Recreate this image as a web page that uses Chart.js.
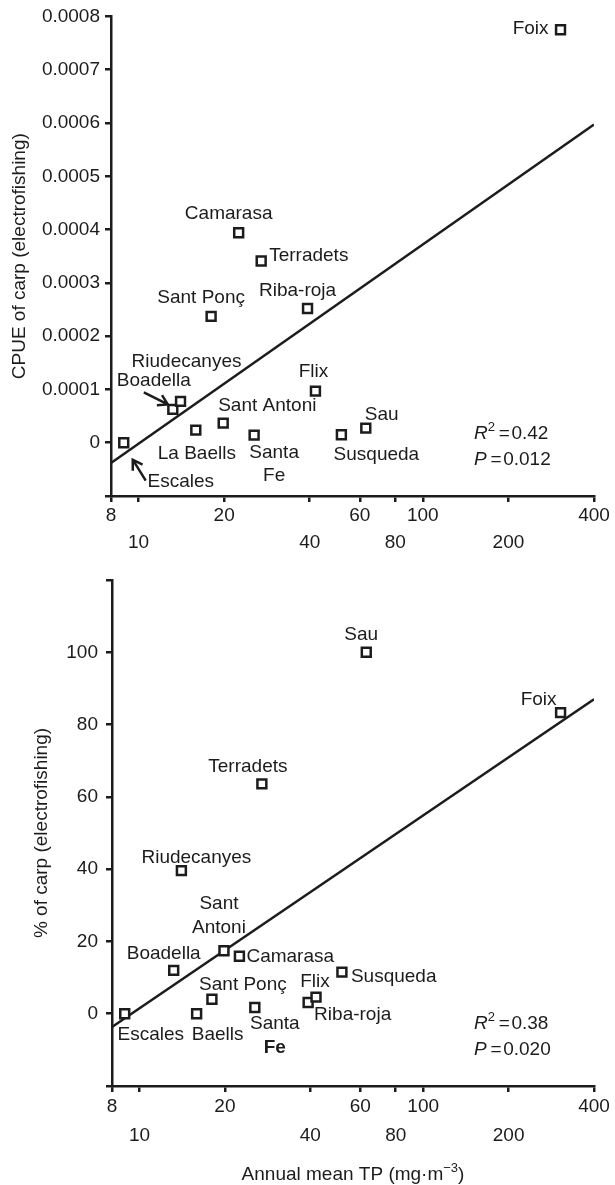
<!DOCTYPE html>
<html>
<head>
<meta charset="utf-8">
<script src="https://cdn.jsdelivr.net/npm/chart.js@4.4.1/dist/chart.umd.min.js"></script>
<style>
  html, body { margin: 0; padding: 0; background: #fff; }
  #wrap { position: relative; width: 615px; height: 1185px; }
  #wrap canvas { position: absolute; left: 0; }
</style>
</head>
<body>
<div id="wrap">
  <canvas id="cpueChart" width="615" height="560" style="top:0"></canvas>
  <canvas id="pctChart" width="615" height="625" style="top:560px"></canvas>
</div>
<script>
// ---------- data ----------
const reservoirs = ["Escales", "Boadella", "Riudecanyes", "La Baells", "Sant Ponç", "Sant Antoni",
  "Camarasa", "Santa Fe", "Terradets", "Riba-roja", "Flix", "Susqueda", "Sau", "Foix"];
const meanTP = [8.87, 13.2, 14.05, 15.9, 18.0, 19.85, 22.5, 25.5, 27.0, 39.3, 41.9, 51.7, 63.0, 305];
const cpueCarp = [0, 0.0000625, 0.0000775, 0.0000236, 0.000237, 0.0000368,
  0.000394, 0.0000143, 0.000341, 0.000252, 0.0000968, 0.000015, 0.0000274, 0.000775];
const pctCarp = [0, 12.0, 39.6, 0, 4.0, 17.4, 15.9, 1.7, 63.6, 3.1, 4.6, 11.5, 100, 83.3];

// regression lines, drawn between the two ends of the x axis
const fitX = [8, 400];
const cpueFit = [-0.000038, 0.000597];
const pctFit = [-3.7, 87.0];

const xTicks = [8, 10, 20, 40, 60, 80, 100, 200, 400];
const xTicksLower = [10, 40, 80, 200];
const cpueTicks = [-0.0001, 0, 0.0001, 0.0002, 0.0003, 0.0004, 0.0005, 0.0006, 0.0007, 0.0008];
const cpueTickLabels = ["", "0", "0.0001", "0.0002", "0.0003", "0.0004", "0.0005", "0.0006", "0.0007", "0.0008"];
const pctTicks = [-20, 0, 20, 40, 60, 80, 100, 120];
const pctTickLabels = ["", "0", "20", "40", "60", "80", "100", ""];

const cpueStats = { r2: "0.42", p: "0.012" };
const pctStats = { r2: "0.38", p: "0.020" };

// ---------- style ----------
const INK = "#1c1c1c";
const FAM = "'Liberation Sans', Arial, Helvetica, sans-serif";
const FS = 19;
Chart.defaults.font.family = FAM;
Chart.defaults.color = INK;

/* label placement (pixel offsets from each point) */
const cpueLabels = [
  { site: "Escales", dx: 57, dy: 39 },
  { site: "Boadella", dx: -19, dy: -29 },
  { site: "Riudecanyes", dx: 6, dy: -40 },
  { site: "La Baells", dx: 1, dy: 24 },
  { site: "Sant Ponç", dx: -10, dy: -19 },
  { site: "Sant Antoni", dx: -5, dy: -17, align: "left" },
  { site: "Camarasa", dx: -10, dy: -19 },
  { site: "Santa Fe", text: ["Santa", "Fe"], dx: 20, dy: 18, gap: 23 },
  { site: "Terradets", dx: 8, dy: -5, align: "left" },
  { site: "Riba-roja", dx: -10, dy: -18 },
  { site: "Flix", dx: -2, dy: -19 },
  { site: "Susqueda", dx: 35, dy: 20 },
  { site: "Sau", dx: -1, dy: -13, align: "left" },
  { site: "Foix", dx: -12, dy: -1, align: "right" }
];
const cpueArrows = [
  { site: "Boadella", from: [-29, -17], to: [-5, -5] },
  { site: "Escales", from: [22, 38], to: [9, 17] }
];
const pctLabels = [
  { site: "Escales", dx: 26, dy: 21 },
  { site: "Boadella", dx: -10, dy: -17 },
  { site: "Riudecanyes", dx: 15, dy: -13 },
  { site: "La Baells", text: ["Baells"], dx: 21, dy: 21 },
  { site: "Sant Ponç", dx: 31, dy: -14 },
  { site: "Sant Antoni", text: ["Sant", "Antoni"], dx: -5, dy: -47, gap: 24 },
  { site: "Camarasa", dx: 7, dy: 1, align: "left" },
  { site: "Santa Fe", text: ["Santa", "Fe"], dx: 20, dy: 16, gap: 24, boldLast: true },
  { site: "Terradets", dx: -14, dy: -17 },
  { site: "Riba-roja", dx: 6, dy: 12, align: "left" },
  { site: "Flix", dx: -1, dy: -15 },
  { site: "Susqueda", dx: 9, dy: 5, align: "left" },
  { site: "Sau", dx: -5, dy: -18 },
  { site: "Foix", dx: -4, dy: -13, align: "right" }
];

function drawArrow(ctx, x1, y1, x2, y2) {
  const a = Math.atan2(y2 - y1, x2 - x1), h = 11, s = 0.55;
  ctx.beginPath();
  ctx.moveTo(x1, y1);
  ctx.lineTo(x2, y2);
  ctx.moveTo(x2 - h * Math.cos(a - s), y2 - h * Math.sin(a - s));
  ctx.lineTo(x2, y2);
  ctx.lineTo(x2 - h * Math.cos(a + s), y2 - h * Math.sin(a + s));
  ctx.stroke();
}

// writes a run of [text, font, dy] pieces, left to right
function drawRun(ctx, x, y, pieces, align) {
  let total = 0;
  pieces.forEach(p => { ctx.font = p[1]; total += ctx.measureText(p[0]).width; });
  let cx = align === "center" ? x - total / 2 : x;
  ctx.textAlign = "left";
  pieces.forEach(p => {
    ctx.font = p[1];
    ctx.fillText(p[0], cx, y + (p[2] || 0));
    cx += ctx.measureText(p[0]).width;
  });
}

const annotate = {
  id: "annotate",
  afterDatasetsDraw(chart, args, opts) {
    const ctx = chart.ctx;
    const area = chart.chartArea;
    const pts = chart.getDatasetMeta(0).data;
    const base = FS + "px " + FAM;
    ctx.save();
    ctx.fillStyle = INK;
    ctx.strokeStyle = INK;
    ctx.textBaseline = "middle";

    /* ---------- point labels ---------- */
    opts.labels.forEach(l => {
      const p = pts[reservoirs.indexOf(l.site)];
      const lines = l.text || [l.site];
      ctx.textAlign = l.align || "center";
      lines.forEach((t, k) => {
        ctx.font = (l.boldLast && k === lines.length - 1 ? "bold " : "") + base;
        ctx.fillText(t, p.x + l.dx, p.y + l.dy + k * (l.gap || 0));
      });
    });

    /* ---------- arrows ---------- */
    ctx.lineWidth = 2.5;
    (opts.arrows || []).forEach(a => {
      const p = pts[reservoirs.indexOf(a.site)];
      drawArrow(ctx, p.x + a.from[0], p.y + a.from[1], p.x + a.to[0], p.y + a.to[1]);
    });

    /* ---------- stats ---------- */
    const sx = area.right - 120;
    const sm = "13px " + FAM;
    drawRun(ctx, sx, area.bottom - 62, [["R", "italic " + base], ["2", sm, -7], ["\u2009=\u200A" + opts.stats.r2, base]]);
    drawRun(ctx, sx, area.bottom - 36, [["P", "italic " + base], ["\u2009=\u200A" + opts.stats.p, base]]);

    /* ---------- axis titles ---------- */
    ctx.save();
    ctx.translate(opts.yTitleX, (area.top + area.bottom) / 2);
    ctx.rotate(-Math.PI / 2);
    ctx.font = base;
    ctx.textAlign = "center";
    ctx.fillText(opts.yTitle, 0, 0);
    ctx.restore();
    if (opts.xTitle) {
      drawRun(ctx, (area.left + area.right) / 2, area.bottom + 89,
        [["Annual mean TP (mg·m", base], ["\u22123", "13px " + FAM, -7], [")", base]], "center");
    }
    ctx.restore();
  }
};

function makeChart(id, yValues, fitY, cfg) {
  return new Chart(document.getElementById(id), {
    type: "scatter",
    data: {
      datasets: [
        {
          data: meanTP.map((x, i) => ({ x, y: yValues[i] })),
          pointStyle: "rect",
          pointRadius: 6.3,
          borderWidth: 2.5,
          borderColor: INK,
          backgroundColor: "#fff"
        },
        {
          type: "line",
          data: fitX.map((x, i) => ({ x, y: fitY[i] })),
          borderColor: INK,
          borderWidth: 2.5,
          pointRadius: 0,
          fill: false
        }
      ]
    },
    options: {
      responsive: false,
      devicePixelRatio: 1,
      animation: false,
      events: [],
      layout: { padding: { left: 0, right: 21, top: cfg.top, bottom: 0 } },
      plugins: {
        legend: { display: false },
        tooltip: { enabled: false },
        annotate: cfg.annotate
      },
      scales: {
        x: {
          type: "logarithmic",
          min: 8,
          max: 400,
          afterBuildTicks: s => { s.ticks = xTicks.map(v => ({ value: v })); },
          afterFit: s => { s.height = cfg.xHeight; },
          border: { display: true, color: INK, width: 2.5 },
          grid: { display: true, drawOnChartArea: false, drawTicks: true, tickLength: 6, color: INK, lineWidth: 2.5 },
          ticks: {
            autoSkip: false,
            maxRotation: 0,
            padding: cfg.xPad,
            color: INK,
            font: { size: FS, lineHeight: cfg.lineHeight },
            callback: v => xTicksLower.includes(v) ? ["", String(v)] : String(v)
          }
        },
        y: {
          min: cfg.ticks[0],
          max: cfg.ticks[cfg.ticks.length - 1],
          afterBuildTicks: s => { s.ticks = cfg.ticks.map(v => ({ value: v })); },
          afterFit: s => { s.width = cfg.yWidth; },
          border: { display: true, color: INK, width: 2.5 },
          grid: { display: true, drawOnChartArea: false, drawTicks: true, tickLength: 6, color: INK, lineWidth: 2.5 },
          ticks: {
            padding: cfg.yPad,
            color: INK,
            font: { size: FS },
            callback: (v, i) => cfg.tickLabels[i]
          }
        }
      }
    },
    plugins: [annotate]
  });
}

makeChart("cpueChart", cpueCarp, cpueFit, {
  top: 16, xHeight: 64, yWidth: 111, xPad: 0, yPad: 5, lineHeight: 1.42,
  ticks: cpueTicks, tickLabels: cpueTickLabels,
  annotate: { labels: cpueLabels, arrows: cpueArrows, stats: cpueStats,
    yTitle: "CPUE of carp (electrofishing)", yTitleX: 20 }
});

makeChart("pctChart", pctCarp, pctFit, {
  top: 20, xHeight: 99, yWidth: 112, xPad: 1, yPad: 8, lineHeight: 1.5,
  ticks: pctTicks, tickLabels: pctTickLabels,
  annotate: { labels: pctLabels, stats: pctStats,
    yTitle: "% of carp (electrofishing)", yTitleX: 42, xTitle: true }
});
</script>
</body>
</html>
